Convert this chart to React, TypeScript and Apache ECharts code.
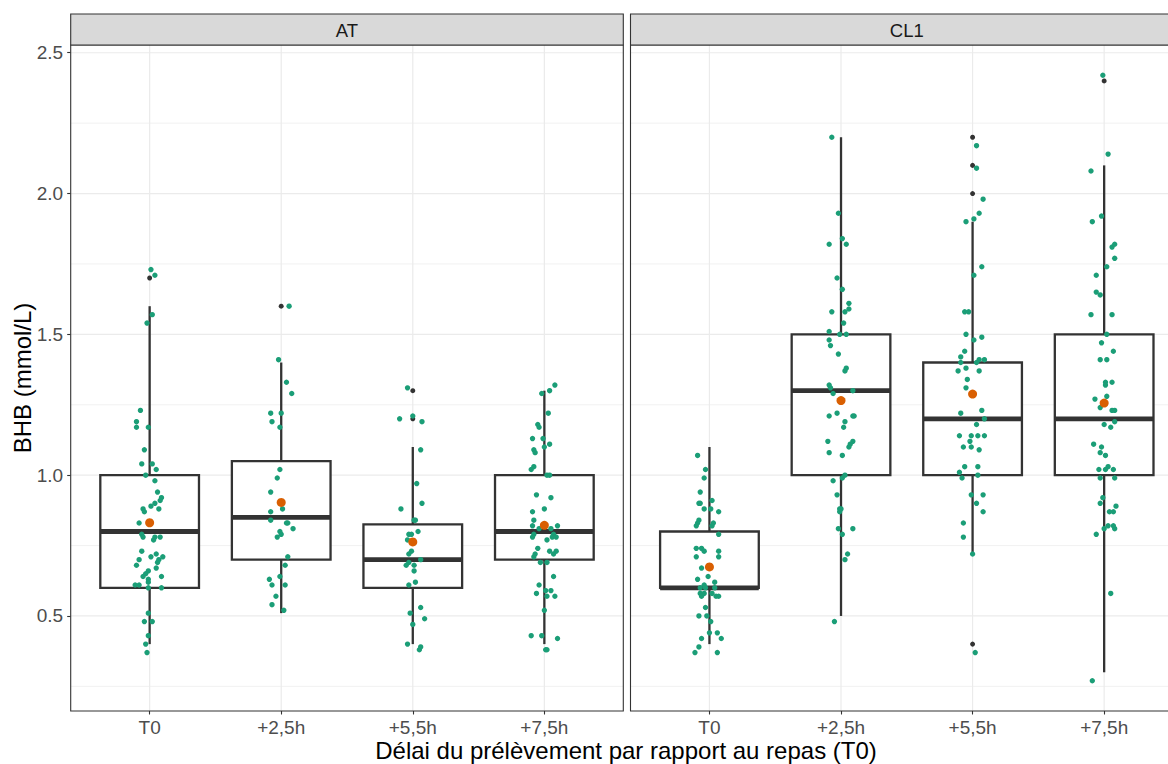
import React, { useEffect, useRef } from "react";
import * as echarts from "echarts";

const FONT = "'Liberation Sans', Arial, sans-serif";
const CATEGORIES = ["T0", "+2,5h", "+5,5h", "+7,5h"];
const PANELS = ["AT", "CL1"];
const Y_TICKS = [0.5, 1.0, 1.5, 2.0, 2.5];
const Y_MINOR = [0.25, 0.75, 1.25, 1.75, 2.25];
const Y_MIN = 0.1625;
const Y_MAX = 2.5275;
const X_TITLE = "Délai du prélèvement par rapport au repas (T0)";
const Y_TITLE = "BHB (mmol/L)";

// box stats per category: [lower whisker, Q1, median, Q3, upper whisker]
const boxAT = [
  [0.4, 0.6, 0.8, 1.0, 1.6],
  [0.51, 0.7, 0.85, 1.05, 1.4],
  [0.4, 0.6, 0.7, 0.825, 1.1],
  [0.4, 0.7, 0.8, 1.0, 1.3],
];
const boxCL1 = [
  [0.4, 0.6, 0.6, 0.8, 1.1],
  [0.5, 1.0, 1.3, 1.5, 2.2],
  [0.72, 1.0, 1.2, 1.4, 1.9],
  [0.3, 1.0, 1.2, 1.5, 2.1],
];
const meansAT = [0.831, 0.903, 0.763, 0.822];
const meansCL1 = [0.674, 1.265, 1.288, 1.256];
// outliers: [category index (1-based), value]
const outliersAT = [[1, 1.7], [2, 1.6], [3, 1.3], [3, 1.2]];
const outliersCL1 = [[3, 2.2], [3, 2.1], [3, 2.0], [3, 0.4], [4, 2.4]];

// jittered observations: [value, horizontal jitter offset]
const atT0 = [[1.73,0.01],[1.71,0.04],[1.57,0.02],[1.54,-0.02],[1.23,-0.07],[1.19,-0.10],[1.17,-0.10],[1.17,-0.01],[1.09,-0.04],[1.04,-0.06],[1.04,0.02],[1.02,0.05],[1.00,-0.03],[0.98,0.04],[0.94,0.06],[0.92,0.09],[0.91,0.08],[0.89,0.01],[0.90,0.04],[0.88,-0.05],[0.87,-0.04],[0.88,0.07],[0.83,-0.08],[0.79,-0.06],[0.78,-0.05],[0.78,0.04],[0.78,0.08],[0.77,0.03],[0.73,-0.06],[0.71,0.01],[0.72,0.05],[0.70,0.07],[0.71,0.10],[0.70,-0.08],[0.68,-0.10],[0.69,0.06],[0.67,0.05],[0.66,-0.01],[0.65,-0.03],[0.64,-0.05],[0.64,0.09],[0.63,-0.01],[0.62,-0.01],[0.61,-0.11],[0.61,-0.08],[0.60,-0.01],[0.60,0.09],[0.51,-0.01],[0.48,-0.04],[0.48,0.02],[0.43,-0.01],[0.40,-0.03],[0.37,-0.02]];
const at25 = [[1.60,0.06],[1.41,-0.02],[1.33,0.04],[1.29,0.08],[1.22,-0.08],[1.22,0.00],[1.19,-0.07],[1.17,-0.01],[1.02,-0.01],[0.99,-0.03],[0.94,-0.08],[0.88,0.01],[0.87,-0.08],[0.84,-0.08],[0.83,0.05],[0.83,0.04],[0.81,0.09],[0.80,-0.01],[0.79,0.00],[0.78,-0.03],[0.71,0.05],[0.68,0.03],[0.64,-0.01],[0.63,-0.09],[0.61,-0.07],[0.61,0.03],[0.57,-0.04],[0.54,-0.07],[0.52,0.02]];
const at55 = [[1.31,-0.04],[1.20,-0.10],[1.21,0.00],[1.19,0.07],[1.09,0.06],[0.97,0.03],[0.88,-0.09],[0.90,0.07],[0.84,0.01],[0.84,0.02],[0.80,0.04],[0.79,-0.03],[0.79,-0.01],[0.77,-0.04],[0.73,-0.01],[0.72,-0.03],[0.70,0.06],[0.69,-0.03],[0.68,-0.05],[0.68,0.01],[0.66,0.01],[0.62,0.02],[0.61,-0.03],[0.53,0.06],[0.51,-0.02],[0.49,0.09],[0.47,0.00],[0.40,-0.04],[0.38,0.05],[0.39,0.06]];
const at75 = [[1.32,0.08],[1.30,0.04],[1.29,-0.02],[1.22,0.03],[1.18,-0.05],[1.17,-0.04],[1.13,-0.09],[1.13,-0.01],[1.11,0.04],[1.09,-0.08],[1.08,-0.07],[1.10,0.00],[1.03,-0.08],[1.02,-0.10],[1.00,0.02],[1.00,0.04],[0.93,-0.06],[0.92,0.05],[0.88,0.00],[0.87,-0.09],[0.84,-0.08],[0.82,0.10],[0.82,-0.09],[0.81,0.05],[0.81,-0.04],[0.79,-0.08],[0.79,0.07],[0.78,-0.09],[0.77,0.02],[0.78,0.06],[0.78,0.09],[0.74,-0.05],[0.73,0.04],[0.73,0.09],[0.72,0.07],[0.72,-0.07],[0.71,-0.08],[0.69,-0.03],[0.69,0.02],[0.64,0.07],[0.61,-0.04],[0.59,0.01],[0.58,-0.06],[0.59,0.05],[0.57,0.02],[0.57,0.08],[0.52,0.00],[0.43,-0.10],[0.43,-0.02],[0.42,0.10],[0.38,0.01],[0.38,0.02]];
const cl1T0 = [[1.07,-0.09],[1.02,-0.03],[0.99,-0.04],[0.94,-0.07],[0.91,0.02],[0.90,-0.08],[0.90,-0.07],[0.88,-0.04],[0.88,0.01],[0.87,0.07],[0.84,-0.08],[0.83,-0.09],[0.82,-0.10],[0.83,0.03],[0.82,0.02],[0.79,0.07],[0.74,-0.10],[0.74,-0.06],[0.73,-0.04],[0.71,-0.10],[0.73,0.07],[0.71,0.07],[0.67,-0.06],[0.63,-0.09],[0.64,-0.01],[0.62,0.04],[0.61,-0.04],[0.60,-0.07],[0.60,-0.03],[0.60,0.04],[0.58,-0.07],[0.58,-0.04],[0.58,0.02],[0.57,0.05],[0.57,0.07],[0.57,-0.06],[0.53,-0.03],[0.50,-0.08],[0.50,-0.02],[0.48,0.01],[0.44,0.00],[0.44,0.06],[0.42,-0.06],[0.42,0.09],[0.39,-0.08],[0.37,-0.11],[0.37,0.06]];
const cl125 = [[2.20,-0.07],[1.93,-0.02],[1.82,-0.09],[1.84,0.01],[1.82,0.04],[1.70,-0.03],[1.66,0.01],[1.61,0.06],[1.59,0.06],[1.58,-0.07],[1.58,0.03],[1.54,0.02],[1.51,-0.09],[1.50,-0.01],[1.50,0.04],[1.48,-0.09],[1.46,-0.08],[1.43,-0.02],[1.38,0.04],[1.37,0.03],[1.32,-0.09],[1.31,-0.08],[1.29,-0.06],[1.30,0.09],[1.22,-0.03],[1.21,-0.09],[1.21,0.09],[1.21,0.10],[1.19,0.03],[1.17,0.02],[1.12,-0.10],[1.12,0.09],[1.11,0.07],[1.10,0.06],[1.08,-0.09],[1.07,0.01],[1.00,0.03],[0.99,0.01],[0.98,-0.06],[0.93,-0.03],[0.88,-0.01],[0.87,-0.01],[0.88,0.00],[0.81,-0.02],[0.79,0.01],[0.81,0.09],[0.72,0.05],[0.70,0.03],[0.48,-0.05]];
const cl155 = [[2.17,0.03],[2.09,0.03],[1.98,0.08],[1.93,0.05],[1.90,-0.05],[1.91,0.01],[1.74,0.07],[1.71,0.01],[1.58,-0.06],[1.58,-0.03],[1.50,-0.05],[1.48,0.01],[1.49,0.07],[1.44,-0.06],[1.42,-0.09],[1.40,-0.09],[1.41,0.05],[1.41,0.09],[1.40,0.03],[1.38,-0.05],[1.37,-0.11],[1.37,0.05],[1.34,-0.04],[1.31,-0.05],[1.23,0.07],[1.22,-0.09],[1.20,0.09],[1.18,0.03],[1.14,-0.10],[1.14,-0.01],[1.14,0.04],[1.14,0.09],[1.12,-0.02],[1.10,-0.07],[1.10,-0.01],[1.09,0.05],[1.03,0.04],[1.03,-0.06],[1.01,-0.10],[0.99,-0.08],[1.00,0.04],[0.93,-0.01],[0.93,0.08],[0.90,0.03],[0.87,0.08],[0.83,-0.07],[0.78,-0.07],[0.72,0.00],[0.37,0.02]];
const cl175 = [[2.42,-0.01],[2.14,0.03],[2.08,-0.10],[1.92,-0.02],[1.90,-0.09],[1.81,0.06],[1.82,0.08],[1.77,0.08],[1.74,0.02],[1.71,-0.06],[1.65,-0.06],[1.64,-0.03],[1.57,-0.10],[1.57,0.06],[1.50,0.02],[1.47,-0.02],[1.44,0.07],[1.41,-0.03],[1.41,0.02],[1.33,0.01],[1.33,0.06],[1.32,0.01],[1.27,-0.07],[1.28,0.02],[1.24,-0.03],[1.23,0.06],[1.23,0.08],[1.18,0.00],[1.17,0.05],[1.19,0.08],[1.11,-0.08],[1.10,-0.02],[1.08,-0.03],[1.07,0.01],[1.02,-0.04],[1.03,0.03],[1.02,0.01],[1.02,0.07],[0.99,-0.03],[0.99,0.08],[0.92,-0.01],[0.90,-0.03],[0.89,0.09],[0.87,0.04],[0.87,0.07],[0.81,0.00],[0.82,0.03],[0.82,0.07],[0.81,0.08],[0.79,-0.06],[0.58,0.05],[0.27,-0.09]];

const jitterAT = [atT0, at25, at55, at75];
const jitterCL1 = [cl1T0, cl125, cl155, cl175];

const EDGE = "#333333";
const GRID_COLOR = "#EBEBEB";
const GREEN = "#1B9E77";
const ORANGE = "#D95F02";
const BOX_WIDTH = 0.75;

const PANEL_LEFT = [70.7, 630.5];
const PANEL_W = 552.6;
const PANEL_TOP = 45;
const PANEL_H = 666;
const STRIP_TOP = 14;

function gridLineRender(params: any, api: any) {
  const cs = params.coordSys;
  const orient = api.value(2);
  const major = api.value(3) === 1;
  if (orient === 0) {
    const y = api.coord([1, api.value(1)])[1];
    return {
      type: "line",
      shape: { x1: cs.x, y1: y, x2: cs.x + cs.width, y2: y },
      style: { stroke: GRID_COLOR, lineWidth: major ? 1.2 : 0.7 },
    };
  }
  const x = api.coord([api.value(0), 1])[0];
  return {
    type: "line",
    shape: { x1: x, y1: cs.y, x2: x, y2: cs.y + cs.height },
    style: { stroke: GRID_COLOR, lineWidth: 1.2 },
  };
}

function boxRender(_params: any, api: any) {
  const xv = api.value(0);
  const lo = api.coord([xv, api.value(1)]);
  const q1 = api.coord([xv, api.value(2)]);
  const md = api.coord([xv, api.value(3)]);
  const q3 = api.coord([xv, api.value(4)]);
  const hi = api.coord([xv, api.value(5)]);
  const w = api.size([BOX_WIDTH, 0])[0];
  const cx = lo[0];
  const lw = 2.3;
  return {
    type: "group",
    children: [
      { type: "line", shape: { x1: cx, y1: q3[1], x2: cx, y2: hi[1] }, style: { stroke: EDGE, lineWidth: lw } },
      { type: "line", shape: { x1: cx, y1: q1[1], x2: cx, y2: lo[1] }, style: { stroke: EDGE, lineWidth: lw } },
      { type: "rect", shape: { x: cx - w / 2, y: q3[1], width: w, height: q1[1] - q3[1] }, style: { fill: "#FFFFFF", stroke: EDGE, lineWidth: lw } },
      { type: "line", shape: { x1: cx - w / 2, y1: md[1], x2: cx + w / 2, y2: md[1] }, style: { stroke: EDGE, lineWidth: 4.8 } },
    ],
  };
}

export default function App() {
  const ref = useRef<HTMLDivElement>(null);

  useEffect(() => {
    if (!ref.current) return;
    const chart = echarts.init(ref.current, null, { renderer: "svg" });

    const gridData: number[][] = [];
    Y_TICKS.forEach((v) => gridData.push([1, v, 0, 1]));
    Y_MINOR.forEach((v) => gridData.push([1, v, 0, 0]));
    CATEGORIES.forEach((_c, i) => gridData.push([i + 1, 1, 1, 1]));

    const boxes = [boxAT, boxCL1];
    const means = [meansAT, meansCL1];
    const outs = [outliersAT, outliersCL1];
    const jits = [jitterAT, jitterCL1];

    const series: any[] = [];
    [0, 1].forEach((p) => {
      series.push({
        type: "custom",
        xAxisIndex: p,
        yAxisIndex: p,
        silent: true,
        renderItem: gridLineRender,
        data: gridData,
        z: 1,
      });
      series.push({
        type: "custom",
        xAxisIndex: p,
        yAxisIndex: p,
        silent: true,
        renderItem: boxRender,
        data: boxes[p].map((b, i) => [i + 1, ...b]),
        z: 2,
      });
      series.push({
        type: "scatter",
        xAxisIndex: p,
        yAxisIndex: p,
        silent: true,
        symbol: "circle",
        symbolSize: 5,
        itemStyle: { color: EDGE, opacity: 1 },
        data: outs[p].map((o) => [o[0], o[1]]),
        z: 3,
      });
      const pts: number[][] = [];
      jits[p].forEach((grp, i) => grp.forEach((d) => pts.push([i + 1 + d[1], d[0]])));
      series.push({
        type: "scatter",
        xAxisIndex: p,
        yAxisIndex: p,
        silent: true,
        symbol: "circle",
        symbolSize: 5.4,
        itemStyle: { color: GREEN, opacity: 1 },
        data: pts,
        z: 4,
      });
      series.push({
        type: "scatter",
        xAxisIndex: p,
        yAxisIndex: p,
        silent: true,
        symbol: "circle",
        symbolSize: 9,
        itemStyle: { color: ORANGE, opacity: 1 },
        data: means[p].map((m, i) => [i + 1, m]),
        z: 5,
      });
    });

    const graphic: any[] = [];
    [0, 1].forEach((p) => {
      graphic.push({
        type: "rect",
        shape: { x: PANEL_LEFT[p], y: STRIP_TOP, width: PANEL_W, height: PANEL_TOP - STRIP_TOP },
        style: { fill: "#D9D9D9", stroke: EDGE, lineWidth: 1.1 },
        z: 10,
      });
      graphic.push({
        type: "text",
        x: PANEL_LEFT[p] + PANEL_W / 2,
        y: (STRIP_TOP + PANEL_TOP) / 2 + 1,
        style: { text: PANELS[p], fontSize: 18.5, lineHeight: 19, fontFamily: FONT, fill: "#1A1A1A", align: "center", verticalAlign: "middle" },
        z: 11,
      });
    });
    graphic.push({
      type: "text",
      x: 626,
      y: 750,
      style: { text: X_TITLE, fontSize: 24, lineHeight: 24, fontFamily: FONT, fill: "#000000", align: "center", verticalAlign: "middle" },
    });
    graphic.push({
      type: "text",
      x: 22,
      y: 378,
      rotation: Math.PI / 2,
      style: { text: Y_TITLE, fontSize: 24, lineHeight: 24, fontFamily: FONT, fill: "#000000", align: "center", verticalAlign: "middle" },
    });

    chart.setOption({
      animation: false,
      backgroundColor: "#FFFFFF",
      grid: [0, 1].map((p) => ({
        left: PANEL_LEFT[p],
        top: PANEL_TOP,
        width: PANEL_W,
        height: PANEL_H,
        outerBoundsMode: "none",
        containLabel: false,
        show: true,
        borderColor: EDGE,
        borderWidth: 1.1,
        backgroundColor: "transparent",
        z: 6,
      })),
      xAxis: [0, 1].map((p) => ({
        type: "value",
        gridIndex: p,
        min: 0.4,
        max: 4.6,
        splitLine: { show: false },
        axisLine: { show: false },
        axisTick: { show: true, customValues: [1, 2, 3, 4], length: 3.5, lineStyle: { color: EDGE, width: 1.1 } },
        axisLabel: {
          customValues: [1, 2, 3, 4],
          formatter: (v: number) => CATEGORIES[Math.round(v) - 1] ?? "",
          fontSize: 19,
          lineHeight: 19,
          fontFamily: FONT,
          color: "#4D4D4D",
          margin: 7,
        },
      })),
      yAxis: [0, 1].map((p) => ({
        type: "value",
        gridIndex: p,
        min: Y_MIN,
        max: Y_MAX,
        splitLine: { show: false },
        axisLine: { show: false },
        axisTick: { show: p === 0, customValues: Y_TICKS, length: 3.5, lineStyle: { color: EDGE, width: 1.1 } },
        axisLabel: {
          show: p === 0,
          customValues: Y_TICKS,
          formatter: (v: number) => v.toFixed(1),
          fontSize: 19,
          fontFamily: FONT,
          color: "#4D4D4D",
          margin: 7.5,
        },
      })),
      graphic,
      series,
    });

    return () => chart.dispose();
  }, []);

  return <div ref={ref} style={{ position: "absolute", left: 0, top: 0, width: 1168, height: 764 }} />;
}
